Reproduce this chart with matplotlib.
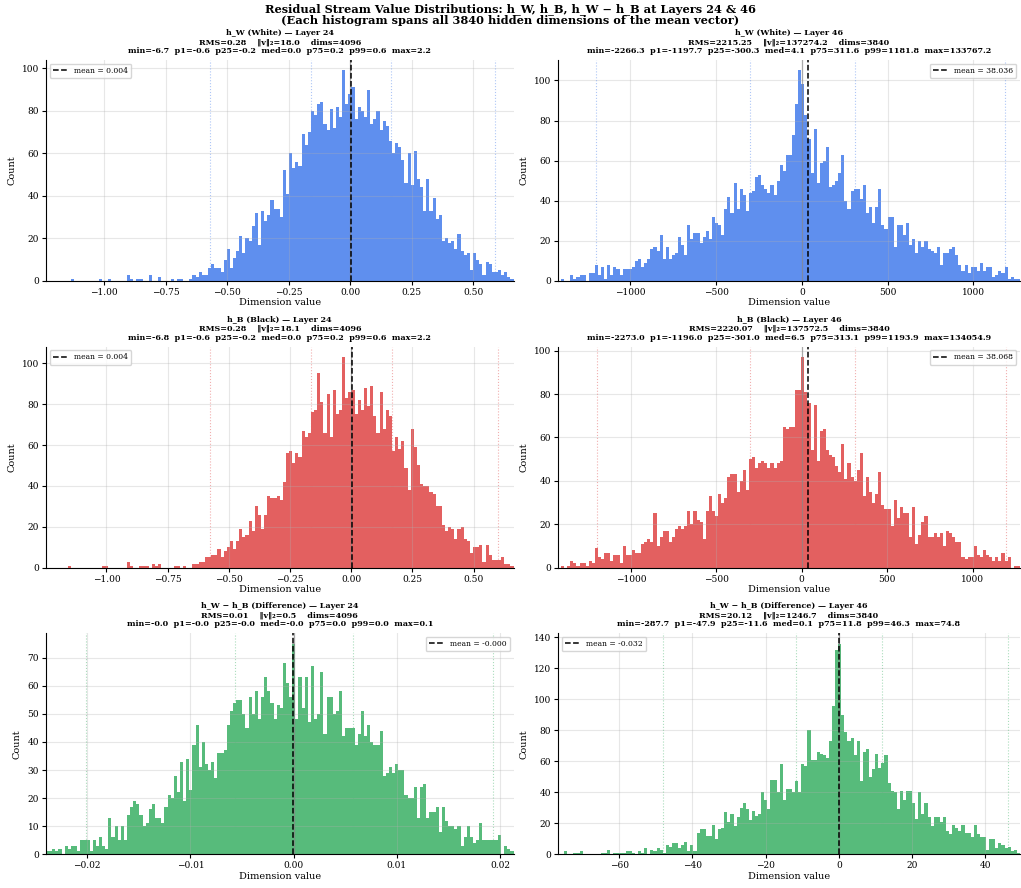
import numpy as np
import matplotlib.pyplot as plt

plt.rcParams['font.family'] = ['DejaVu Serif', 'DejaVu Sans']

# ── Data: bin counts (150 equal bins across xlim) ────
w24_counts = [0, 0, 0, 0, 0, 0, 0, 0, 1, 0, 0, 0, 0, 0, 0, 0, 0, 1, 0, 0, 1, 0, 0, 0, 0, 0,
              3, 1, 0, 1, 1, 0, 0, 3, 0, 0, 2, 0, 0, 0, 1, 0, 1, 1, 0, 0, 1,
              3, 2, 4, 3, 3, 6, 8, 6, 6, 4, 10, 15, 6, 11, 14, 21, 13, 20, 19, 26, 32, 17, 33, 28, 31, 38, 34,
              34, 30, 52, 41, 60, 53, 56, 54, 69, 64, 70, 80, 78, 83, 84, 74, 71, 81, 72, 82, 77, 99, 83, 88,
              91, 76, 82, 80, 77, 90, 74, 76, 80, 71, 75, 73, 66, 60, 65, 63, 57, 46, 60, 45, 61, 48, 44, 33,
              48, 33, 39, 29, 31, 19, 20, 18, 19, 15, 22, 14, 12, 13, 5, 13, 10, 8, 3, 9, 8, 4, 4, 5, 3, 4, 2, 1]
w46_counts = [0, 1, 0, 0, 3, 1, 2, 3, 3, 0, 4, 4, 8, 3, 7, 1, 8, 3, 7, 6, 3, 6, 6, 6, 7, 10, 11, 7, 9,
              11, 16, 17, 15, 23, 11, 17, 11, 13, 14, 22, 18, 13, 28, 21, 24, 24, 19, 22, 25, 21, 32, 29,
              28, 23, 36, 42, 34, 49, 36, 46, 43, 35, 44, 45, 52, 53, 48, 46, 44, 48, 43, 50,
              58, 55, 63, 63, 73, 88, 105, 98, 83, 71, 54, 76, 49, 59, 60, 67, 47, 48, 50, 54, 63, 40, 36,
              45, 46, 46, 41, 48, 34, 37, 29, 37, 46, 28, 26, 32, 32, 17, 28, 28, 23, 29, 18, 21, 14, 20,
              17, 20, 16, 15, 14, 17, 8, 14, 14, 16, 17, 13, 8, 5, 8, 4, 7, 7, 5, 9, 5, 7, 7, 2, 3, 5, 4,
              7, 1, 2, 1, 1]
b24_counts = [0, 0, 0, 0, 0, 0, 0, 1, 0, 0, 0, 0, 0, 0, 0, 0, 0, 0, 1, 1, 0, 0, 0, 0, 0, 0,
              3, 1, 0, 0, 1, 1, 1, 0, 2, 1, 2, 0, 0, 0, 0, 1, 1, 0, 1, 0, 0,
              2, 2, 3, 3, 5, 5, 6, 6, 9, 5, 8, 10, 13, 9, 13, 19, 15, 16, 23, 18, 30, 26, 19, 26, 35, 34, 34,
              35, 33, 42, 56, 57, 51, 56, 54, 67, 64, 66, 76, 77, 95, 81, 66, 85, 64, 87, 75, 77, 103, 83,
              86, 87, 75, 82, 77, 88, 79, 89, 74, 66, 86, 68, 77, 74, 57, 64, 58, 62, 49, 38, 68, 59, 50,
              41, 40, 40, 37, 36, 30, 30, 21, 18, 20, 19, 14, 19, 20, 14, 13, 7, 10, 10, 11, 3, 11, 6, 4,
              4, 4, 5, 2, 2, 1]
b46_counts = [0, 1, 0, 1, 3, 2, 1, 2, 2, 1, 3, 2, 9, 5, 4, 7, 7, 3, 6, 6, 2, 10, 6, 6, 8, 7, 7, 11,
              12, 13, 12, 25, 10, 14, 17, 17, 12, 14, 18, 19, 18, 19, 26, 20, 26, 22, 21, 13, 26, 33, 26,
              24, 34, 30, 32, 42, 43, 43, 35, 40, 45, 36, 50, 51, 46, 48, 49, 48, 46, 48, 46,
              48, 49, 65, 64, 65, 65, 82, 82, 97, 81, 76, 54, 75, 49, 63, 64, 54, 52, 51, 47, 44, 57, 41,
              48, 42, 40, 45, 53, 33, 42, 35, 30, 34, 44, 29, 27, 27, 19, 31, 23, 28, 25, 25, 14, 28, 11,
              15, 21, 24, 14, 14, 16, 14, 16, 10, 17, 16, 14, 12, 12, 5, 4, 5, 5, 10, 6, 5, 8, 6, 5, 3, 5,
              3, 7, 3, 5, 0, 1, 1]
d24_counts = [1, 1, 2, 1, 2, 0, 3, 2, 3, 3, 1, 5, 5, 5, 1, 5, 3, 6, 3, 2, 13, 6, 10, 5, 10, 5, 14,
              17, 19, 18, 14, 10, 11, 16, 18, 13, 13, 11, 17, 21, 20, 28, 22, 33, 19, 34, 23, 39, 46, 31,
              40, 32, 30, 33, 27, 36, 36, 37, 46, 51, 54, 55, 55, 50, 45, 56, 50, 58, 48, 56, 63, 58, 54,
              48, 53, 52, 68, 61, 56, 75, 48, 63, 52, 63, 47, 67, 48, 50, 65, 43, 56, 56, 50, 51, 58, 42,
              45, 45, 45, 39, 43, 51, 42, 46, 40, 39, 39, 44, 28, 29, 31, 29, 32, 30, 30, 21, 20, 20, 24,
              13, 24, 25, 13, 15, 15, 17, 8, 17, 12, 10, 10, 9, 10, 3, 6, 10, 6, 4, 5, 11, 5, 5, 5, 5, 5,
              7, 0, 3, 2, 1]
d46_counts = [0, 0, 2, 0, 0, 1, 1, 2, 0, 0, 0, 0, 0, 0, 1, 1, 3, 0, 1, 1, 1, 1, 2, 2, 1, 0, 2, 1, 4,
              0, 3, 2, 4, 3, 1, 6, 5, 7, 7, 4, 6, 8, 2, 6, 2, 14, 16, 16, 12, 12, 19, 10, 16, 17, 27, 21,
              26, 18, 24, 30, 33, 29, 22, 28, 25, 26, 40, 35, 29, 48,
              48, 40, 58, 35, 42, 42, 40, 47, 40, 58, 57, 80, 61, 61, 66, 65, 64, 62, 73, 96, 132, 136,
              90, 79, 73, 75, 64, 73, 47, 66, 68, 50, 55, 65, 56, 59, 64, 46, 41, 40, 29, 41, 35, 41, 41,
              33, 23, 40, 26, 33, 24, 18, 24, 24, 21, 24, 15, 13, 19, 17, 15, 19, 14, 14, 11, 19, 13, 11,
              11, 3, 10, 10, 4, 7, 6, 4, 5, 2, 3, 1]

x_ranges = [(-1.237, 0.664), (-1421, 1271),
            (-1.247, 0.663), (-1426, 1277),
            (-0.0240, 0.0213), (-76.7, 49.5)]
# p1, p25, p75, p99 marker positions
pct_lines = [(-0.569, -0.161, 0.164, 0.59), (-1197.7, -300.3, 311.6, 1181.8),
             (-0.576, -0.163, 0.165, 0.60), (-1196.0, -301.0, 313.1, 1193.9),
             (-0.0201, -0.0057, 0.0057, 0.0193), (-47.9, -11.6, 11.8, 46.3)]
means = [0.004, 38.036, 0.004, 38.068, -0.0001, -0.032]

titles = [
    "h_W (White) — Layer 24\nRMS=0.28    ‖v‖₂=18.0    dims=4096\n"
    "min=-6.7  p1=-0.6  p25=-0.2  med=0.0  p75=0.2  p99=0.6  max=2.2",
    "h_W (White) — Layer 46\nRMS=2215.25    ‖v‖₂=137274.2    dims=3840\n"
    "min=-2266.3  p1=-1197.7  p25=-300.3  med=4.1  p75=311.6  p99=1181.8  max=133767.2",
    "h_B (Black) — Layer 24\nRMS=0.28    ‖v‖₂=18.1    dims=4096\n"
    "min=-6.8  p1=-0.6  p25=-0.2  med=0.0  p75=0.2  p99=0.6  max=2.2",
    "h_B (Black) — Layer 46\nRMS=2220.07    ‖v‖₂=137572.5    dims=3840\n"
    "min=-2273.0  p1=-1196.0  p25=-301.0  med=6.5  p75=313.1  p99=1193.9  max=134054.9",
    "h_W − h_B (Difference) — Layer 24\nRMS=0.01    ‖v‖₂=0.5    dims=4096\n"
    "min=-0.0  p1=-0.0  p25=-0.0  med=-0.0  p75=0.0  p99=0.0  max=0.1",
    "h_W − h_B (Difference) — Layer 46\nRMS=20.12    ‖v‖₂=1246.7    dims=3840\n"
    "min=-287.7  p1=-47.9  p25=-11.6  med=0.1  p75=11.8  p99=46.3  max=74.8",
]

all_counts = [w24_counts, w46_counts, b24_counts, b46_counts, d24_counts, d46_counts]
colors = ["#5f8fee", "#5f8fee", "#e36060", "#e36060", "#57bb7b", "#57bb7b"]
legend_locs = ["upper left", "upper right", "upper left", "upper right", "upper right", "upper left"]

# axes rectangles (fig fractions)
col_x = [(0.045, 0.458), (0.5465, 0.4525)]
row_y = [0.6836, 0.3607, 0.0380]
ax_h = 0.249

fig = plt.figure(figsize=(10.21, 8.88), dpi=100)
fig.suptitle("Residual Stream Value Distributions: h_W, h_B, h_W − h_B at Layers 24 & 46\n"
             "(Each histogram spans all 3840 hidden dimensions of the mean vector)",
             fontsize=8.2, fontweight="bold", y=0.997, linespacing=1.05)

for i in range(6):
    r, c = divmod(i, 2)
    ax = fig.add_axes([col_x[c][0], row_y[r], col_x[c][1], ax_h])
    lo, hi = x_ranges[i]
    counts = all_counts[i]
    edges = np.linspace(lo, hi, len(counts) + 1)
    ax.hist(edges[:-1], bins=edges, weights=counts, color=colors[i])
    for p in pct_lines[i]:
        ax.axvline(p, color=colors[i], ls=":", lw=0.8, alpha=0.5)
    ax.axvline(0, color="grey", lw=0.9, alpha=0.6)
    ax.axvline(means[i], color="black", ls="--", lw=1.1, label=f"mean = {means[i]:.3f}")
    ax.set_xlim(lo, hi)
    ax.set_title(titles[i], fontsize=5.8, fontweight="bold", pad=5, linespacing=1.15)
    ax.set_xlabel("Dimension value", fontsize=7, labelpad=1)
    ax.set_ylabel("Count", fontsize=7)
    ax.tick_params(labelsize=6.5, length=3, pad=2)
    ax.grid(alpha=0.3)
    ax.spines["top"].set_visible(False)
    ax.spines["right"].set_visible(False)
    ax.legend(loc=legend_locs[i], fontsize=5.5)

plt.savefig("out.png", dpi=100)
